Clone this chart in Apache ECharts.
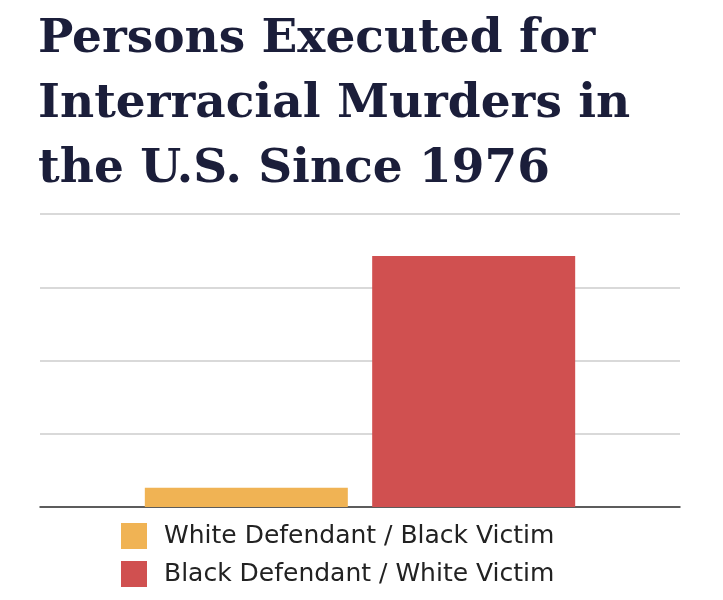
<!DOCTYPE html>
<html><head><meta charset="utf-8">
<script src="https://cdn.jsdelivr.net/npm/echarts@6/dist/echarts.min.js"></script>
<style>html,body{margin:0;background:#fff}#c{width:723px;height:600px}</style>
</head><body><div id="c"></div>
<script>
const titleLines = ["Persons Executed for", "Interracial Murders in", "the U.S. Since 1976"];
const categories = ["Executions"];
const seriesNames = ["White Defendant / Black Victim", "Black Defendant / White Victim"];
const seriesValues = [[21], [274]];
const colors = ["#F0B354", "#D05050"];

const chart = echarts.init(document.getElementById('c'));
chart.setOption({
  animation: false,
  title: {
    text: titleLines.join("\n"), left: 33, top: 2,
    textStyle: { fontFamily: "DejaVu Serif", fontWeight: "bold", fontSize: 47, lineHeight: 65, color: "#1b1e3a" }
  },
  legend: {
    orient: "vertical", left: 116, top: 518, itemWidth: 26, itemHeight: 26, itemGap: 12,
    icon: "rect",
    textStyle: { fontFamily: "DejaVu Sans", fontSize: 25, color: "#222", padding: [0,0,0,12] },
    data: seriesNames
  },
  grid: { left: 40, right: 43, top: 214, bottom: 93 },
  xAxis: { type: "category", data: categories, axisLabel: { show: false }, axisTick: { show: false },
    axisLine: { lineStyle: { color: "#333", width: 1.5 } } },
  yAxis: { type: "value", min: 0, max: 320, interval: 80, axisLabel: { show: false },
    splitLine: { lineStyle: { color: "#ccc", width: 1.5 } } },
  series: seriesNames.map((n, i) => ({
    name: n, type: "bar", data: seriesValues[i], barWidth: 203, barGap: "12%",
    itemStyle: { color: colors[i] }
  }))
});
</script></body></html>
